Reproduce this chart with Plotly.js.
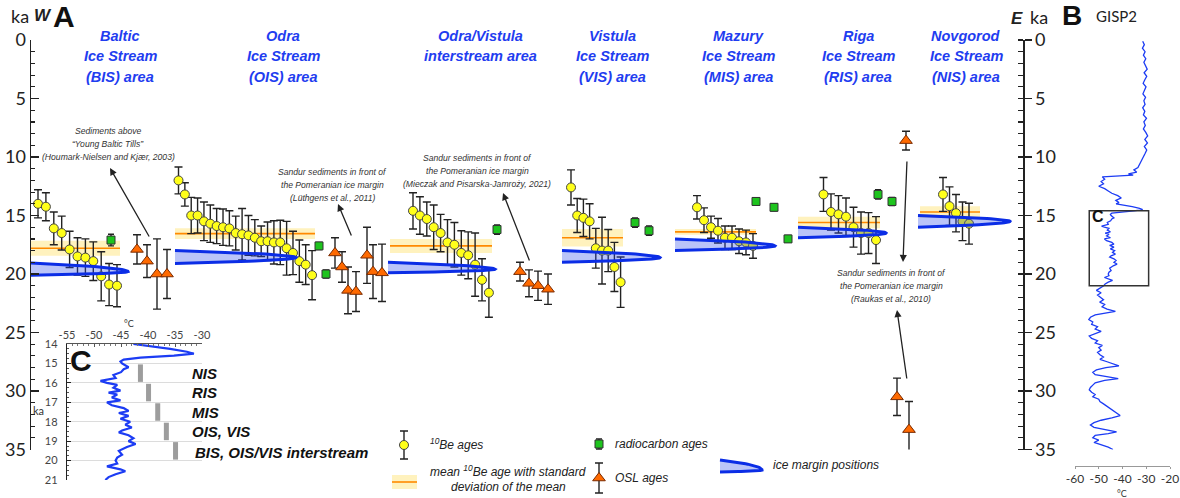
<!DOCTYPE html>
<html><head><meta charset="utf-8">
<script src="https://cdn.plot.ly/plotly-3.0.1.min.js"></script>
<style>html,body{margin:0;padding:0;background:#fff}#chart{width:1180px;height:498px}</style>
</head><body><div id="chart"></div>
<script>
// ================= DATA =================
const groupTitles = [
  ['Baltic','Ice Stream','(BIS) area'],
  ['Odra','Ice Stream','(OIS) area'],
  ['Odra/Vistula','interstream area'],
  ['Vistula','Ice Stream','(VIS) area'],
  ['Mazury','Ice Stream','(MIS) area'],
  ['Riga','Ice Stream','(RIS) area'],
  ['Novgorod','Ice Stream','(NIS) area']
];
// 10Be ages (ka) and 1-sigma errors per group
const be10Age = [
  [14.0,14.25,16.1,16.5,17.9,18.5,18.6,18.9,20.2,20.9,21.0],
  [12.0,13.2,15.0,15.0,15.5,15.7,15.9,16.0,16.1,16.5,16.6,16.7,16.9,17.2,17.2,17.3,17.3,17.8,18.2,18.9,19.2,20.1],
  [14.6,15.0,15.3,16.0,16.5,17.3,17.5,18.2,18.4,19.2,20.5,21.6],
  [12.6,15.0,15.2,15.5,17.8,18.0,18.0,19.4,20.7],
  [14.3,15.4,16.0,16.3,16.9,16.9,17.2,17.3,17.6],
  [13.2,14.7,14.9,15.1,16.0,16.5,16.5,17.1],
  [13.2,14.2,14.8,15.5,15.7]
];
const be10Err = [
  [1.2,1.2,1.4,1.45,1.55,1.6,1.6,1.65,2.1,1.8,1.8],
  [1.15,1.0,1.55,1.5,1.65,1.6,1.5,1.55,1.5,1.45,2.2,1.7,1.55,1.3,1.65,1.85,1.9,2.3,1.85,1.8,1.7,2.1],
  [1.55,1.6,1.45,1.9,1.6,1.95,1.9,1.9,2.0,2.7,1.8,2.1],
  [1.5,1.45,1.6,1.5,1.7,2.85,1.8,2.1,2.15],
  [1.0,1.05,0.95,1.05,1.0,1.0,1.05,1.05,1.05],
  [1.45,1.55,1.6,1.6,1.7,1.8,1.75,2.0],
  [1.45,1.65,1.6,1.65,1.75]
];
const meanAge = [17.8,16.55,17.6,16.9,16.4,15.6,14.7];
const meanSd  = [0.65,0.45,0.6,0.75,0.25,0.5,0.5];
const iceTop = [19.05,18.0,19.0,18.0,17.0,16.0,15.0];
const iceTip = [19.8,18.6,19.6,18.6,17.6,16.5,15.5];
const iceBot = [20.1,19.1,19.9,19.0,18.0,16.9,16.0];
const c14Age = [17.1,17.6,20.0,16.2,15.6,16.3,13.8,14.3,17.0,13.2,13.8];
const c14Err = [0.5,0.3,0.35,0.4,0.4,0.4,0.3,0.3,0.3,0.4,0.35];
const oslAge = [17.9,18.9,20.0,20.0, 18.2,19.4,21.4,21.5,18.4,19.8,19.9, 19.8,20.8,21.0,21.3, 8.6,30.5,33.3];
const oslErr = [1.25,1.4,3.0,2.1, 1.3,1.3,2.0,1.7,2.4,2.3,2.45, 0.8,1.15,1.25,1.3, 0.8,1.6,2.4];

// GISP2 temperature (deg C) vs age (ka)
const gispAgeHolo = [0.1,0.4,0.7,1.0,1.3,1.6,1.9,2.2,2.5,2.8,3.1,3.4,3.7,4.0,4.3,4.6,4.9,5.2,5.5,5.8,6.1,6.4,6.7,7.0,7.3,7.6,7.9,8.2,8.5,8.8,9.1,9.4,9.7,10.0,10.3,10.6,10.9,11.1,11.3,11.45,11.55,11.7,11.9,12.1,12.3,12.5,12.7,12.9,13.1,13.3,13.5,13.7,13.9];
const gispTempHolo = [-31.5,-30.8,-31.6,-30.5,-31.2,-30.2,-31.0,-30.4,-29.6,-30.9,-29.8,-30.6,-31.3,-30.1,-30.8,-31.4,-30.3,-31.0,-30.5,-31.5,-30.6,-31.2,-29.9,-31.0,-30.4,-31.2,-30.2,-29.4,-30.6,-29.5,-30.8,-29.8,-30.5,-31.2,-32.0,-32.8,-33.5,-35.2,-34.0,-37.5,-35.5,-48.5,-47.5,-49.0,-48.0,-50.0,-47.5,-46.0,-44.5,-42.0,-40.5,-42.8,-41.5];
const cAge = [14.0,14.1,14.25,14.4,14.5,14.6,14.7,14.8,14.9,15.0,15.2,15.3,15.45,15.6,15.75,15.9,16.0,16.1,16.25,16.4,16.5,16.6,16.75,16.9,17.0,17.15,17.3,17.45,17.55,17.7,17.85,18.0,18.15,18.3,18.45,18.55,18.7,18.85,19.0,19.15,19.3,19.5,19.7,19.85,20.0,20.15,20.3,20.45,20.55,20.7,20.85,21.0];
const cTemp = [-42.7,-39.6,-35.9,-32.8,-31.5,-35.2,-41.4,-44.5,-45.1,-44.8,-43.6,-44.5,-45.0,-46.4,-46.0,-48.8,-47.6,-45.7,-46.4,-45.1,-47.3,-45.7,-46.7,-45.1,-47.6,-46.7,-44.5,-43.6,-45.4,-43.6,-45.1,-43.3,-44.2,-43.0,-44.8,-45.4,-43.6,-42.7,-43.6,-42.3,-43.9,-45.4,-44.8,-45.7,-46.0,-45.7,-47.6,-45.1,-44.2,-46.0,-47.3,-47.9];
const gispAgeGlac = [21.2,21.4,21.6,21.8,22.0,22.2,22.4,22.6,22.8,23.0,23.2,23.35,23.5,23.7,23.9,24.1,24.3,24.5,24.7,24.9,25.1,25.3,25.5,25.7,25.9,26.1,26.3,26.5,26.7,26.9,27.1,27.3,27.5,27.7,27.85,28.0,28.2,28.4,28.6,28.8,28.95,29.1,29.3,29.5,29.7,29.9,30.1,30.3,30.5,30.7,30.9,31.1,31.3,31.5,31.7,31.9,32.1,32.3,32.5,32.7,32.9,33.1,33.3,33.5,33.65,33.8,34.0,34.2,34.4,34.6,34.8,35.0];
const gispTempGlac = [-49.5,-51.0,-49.0,-50.5,-49.2,-48.0,-49.6,-47.5,-48.6,-46.5,-43.0,-47.0,-51.5,-53.5,-54.2,-52.5,-53.0,-50.5,-51.5,-49.0,-52.0,-54.0,-53.0,-50.5,-51.5,-48.5,-50.0,-49.0,-50.5,-49.5,-48.0,-49.5,-46.5,-43.0,-41.5,-47.0,-51.0,-52.5,-51.5,-46.0,-41.8,-47.5,-51.5,-52.5,-53.5,-54.0,-53.0,-51.5,-52.5,-50.0,-49.5,-48.0,-46.5,-45.5,-44.0,-42.5,-41.0,-44.5,-49.0,-52.0,-53.5,-52.0,-47.5,-42.5,-46.0,-51.5,-52.5,-50.0,-52.0,-48.5,-46.0,-44.0];
// inset C: ice-margin timing bars
const cBarLabels = ['NIS','RIS','MIS','OIS, VIS','BIS, OIS/VIS interstream'];
const cBarTemp = [-41.4,-39.9,-38.2,-36.6,-34.9];
const cBarFrom = [15.05,16.05,17.05,18.05,19.05];
const cBarTo   = [15.95,16.95,17.95,18.95,19.95];
// tick labels
const ageTicks = [0,5,10,15,20,25,30,35];
const gispTickVals = [-60,-50,-40,-30,-20];
const gispTickText = ['-60','-50','-40','-30','-20'];
const cTickVals = [-55,-50,-45,-40,-35,-30];
const cTickText = ['-55','-50','-45','-40','-35','-30'];

// ================= LAYOUT POSITIONS (x slots on nominal axis) =================
const W = 1180, H = 498;
const PX = x => x / W, PY = y => 1 - y / H;
const POS = {
  be10Start: [38,178.5,413,571,697,823.5,943],
  be10Step:  [7.9,6.36,6.9,6.2,7.0,7.5,6.5],
  bandX: [[30,120],[175,315],[390,492],[562,623],[675,756],[798,880],[920,980]],
  iceX:  [[30,128],[175,296],[388,495],[562,660],[675,775],[798,886],[918,1010]],
  c14X: [111,319,326,497,635,649,756,774,788,878,892],
  oslX: [137,147,157,167, 335,342,348,356,367,373,382, 520,529,538,548, 906,897,909],
  titleX: [120,283,480,612,738,858,966]
};
const ageDom = [PY(449.5), PY(40)];

function lobePath(x0,x1,top,tip,bot){
  const xs=[], ys=[], N=24;
  for(let i=0;i<=N;i++){const u=Math.pow(1-i/N,2); xs.push(x1-(x1-x0)*u); ys.push(tip-(tip-top)*Math.sqrt(u));}
  for(let i=1;i<=N;i++){const u=Math.pow(i/N,2); xs.push(x1-(x1-x0)*u); ys.push(tip+(bot-tip)*Math.sqrt(u));}
  return {xs,ys};
}

const traces = [];
const ERR = (arr,w)=>({type:'data',array:arr,visible:true,color:'#222',thickness:1.4,width:w});
const LOBE_FILL='rgba(45,75,235,0.33)', LOBE_LINE='#0b2de6';
const YEL='#ffff1a', ORG='#ff6a00', GRN='#1ec41e';

// mean bands
meanAge.forEach((m,g)=>{
  const [a,b]=POS.bandX[g], s=meanSd[g];
  traces.push({x:[a,b,b,a],y:[m-s,m-s,m+s,m+s],mode:'lines',fill:'toself',fillcolor:'rgba(255,226,110,0.45)',line:{width:0},hoverinfo:'skip',xaxis:'x',yaxis:'y'});
  traces.push({x:[a,b],y:[m,m],mode:'lines',line:{color:'#ff8a00',width:1.6},hoverinfo:'skip',xaxis:'x',yaxis:'y'});
});
// 10Be
be10Age.forEach((ages,g)=>{
  traces.push({x:ages.map((_,i)=>POS.be10Start[g]+i*POS.be10Step[g]),y:ages,mode:'markers',
    marker:{symbol:'circle',size:9,color:YEL,line:{color:'#444',width:1}},error_y:ERR(be10Err[g],4),xaxis:'x',yaxis:'y'});
});
// radiocarbon
traces.push({x:POS.c14X,y:c14Age,mode:'markers',marker:{symbol:'square',size:8,color:GRN,line:{color:'#333',width:1}},error_y:ERR(c14Err,3),xaxis:'x',yaxis:'y'});
// OSL
traces.push({x:POS.oslX,y:oslAge,mode:'markers',marker:{symbol:'triangle-up',size:11,color:ORG,line:{color:'#7a2a00',width:1}},error_y:ERR(oslErr,4),xaxis:'x',yaxis:'y'});
// ice margin lobes
iceTop.forEach((t,g)=>{
  const p=lobePath(POS.iceX[g][0],POS.iceX[g][1],t,iceTip[g],iceBot[g]);
  traces.push({x:p.xs,y:p.ys,mode:'lines',fill:'toself',fillcolor:LOBE_FILL,line:{color:LOBE_LINE,width:3},hoverinfo:'skip',xaxis:'x',yaxis:'y'});
});
// dummy for right axis
traces.push({x:[500],y:[0],mode:'markers',marker:{opacity:0},xaxis:'x',yaxis:'y2',hoverinfo:'skip'});

// GISP2 (panel B)
const gAge = gispAgeHolo.concat(cAge, gispAgeGlac);
const gTemp = gispTempHolo.concat(cTemp, gispTempGlac);
traces.push({x:gTemp,y:gAge,mode:'lines',line:{color:'#1c3cf4',width:1.3},xaxis:'x3',yaxis:'y3'});

// inset C
traces.push({x:cTemp,y:cAge,mode:'lines',line:{color:'#1c3cf4',width:2.2},xaxis:'x4',yaxis:'y4'});
const bx=[],by=[];
cBarTemp.forEach((t,i)=>{bx.push(t,t,null);by.push(cBarFrom[i],cBarTo[i],null);});
traces.push({x:bx,y:by,mode:'lines',line:{color:'#9d9d9d',width:5},xaxis:'x4',yaxis:'y4'});

// legend glyphs (pixel overlay axis)
traces.push({x:[404],y:[445],mode:'markers',marker:{symbol:'circle',size:9,color:YEL,line:{color:'#444',width:1}},error_y:ERR([14],4),xaxis:'x5',yaxis:'y5'});
traces.push({x:[392,417,417,392],y:[475,475,489,489],mode:'lines',fill:'toself',fillcolor:'rgba(255,226,110,0.45)',line:{width:0},xaxis:'x5',yaxis:'y5'});
traces.push({x:[392,417],y:[482,482],mode:'lines',line:{color:'#ff8a00',width:1.6},xaxis:'x5',yaxis:'y5'});
traces.push({x:[599],y:[444],mode:'markers',marker:{symbol:'square',size:8,color:GRN,line:{color:'#333',width:1}},error_y:ERR([5],3),xaxis:'x5',yaxis:'y5'});
traces.push({x:[599],y:[478],mode:'markers',marker:{symbol:'triangle-up',size:11,color:ORG,line:{color:'#7a2a00',width:1}},error_y:ERR([15],4),xaxis:'x5',yaxis:'y5'});
const lp=lobePath(720,762,460,470,472);
traces.push({x:lp.xs,y:lp.ys,mode:'lines',fill:'toself',fillcolor:LOBE_FILL,line:{color:LOBE_LINE,width:3},xaxis:'x5',yaxis:'y5'});

// ================= ANNOTATIONS =================
const anns=[];
const A=(text,x,y,o={})=>anns.push(Object.assign({text,x:PX(x),y:PY(y),xref:'paper',yref:'paper',showarrow:false,xanchor:'center',yanchor:'middle',font:{family:'Liberation Sans, Arial',size:12,color:'#222'}},o));
const F=(size,color,family)=>({family:family||'Liberation Sans, Arial',size,color:color||'#222'});
// top labels
A('ka',20,16,{font:F(18,'#222','Lato')});
A('<b><i>W</i></b>',43,15,{font:F(17)});
A('<b>A</b>',64,17,{font:F(30,'#111')});
A('<b><i>E</i></b>',1017,18,{font:F(17)});
A('ka',1039,17,{font:F(18,'#222','Lato')});
A('<b>B</b>',1072,16,{font:F(28,'#111')});
A('GISP2',1116,16,{font:F(15,'#222','Lato')});
A('°C',1122,493,{font:F(9,'#333','Lato'),yanchor:'middle'});
// group titles
groupTitles.forEach((lines,g)=>lines.forEach((t,i)=>A('<b><i>'+t+'</i></b>',POS.titleX[g],36+i*20.5,{font:F(14.5,'#1f3df0')})));
// callouts
const callouts=[
  [108,131,['Sediments above','“Young Baltic Tills”','(Houmark-Nielsen and Kjær, 2003)']],
  [332,172,['Sandur sediments in front of','the Pomeranian ice margin','(Lüthgens et al., 2011)']],
  [477,158,['Sandur sediments in front of','the Pomeranian ice margin','(Mieczak and Pisarska-Jamroży, 2021)']],
  [891,273,['Sandur sediments in front of','the Pomeranian ice margin','(Raukas et al., 2010)']]
];
callouts.forEach(([x,y,ls])=>ls.forEach((t,i)=>A('<i>'+t+'</i>',x,y+i*12.8,{font:F(8.6,'#333')})));
// arrows
[[110,168,150,238],[338,204,352,237],[503,193,530,262],[903,262,907,160],[897,310,907,380]].forEach(([hx,hy,tx,ty])=>{
  anns.push({x:PX(hx),y:PY(hy),xref:'paper',yref:'paper',text:'',showarrow:true,ax:tx-hx,ay:ty-hy,axref:'pixel',ayref:'pixel',arrowhead:2,arrowsize:1.1,arrowwidth:1.3,arrowcolor:'#222'});
});
// legend texts
A('<i><sup>10</sup>Be ages</i>',428,444,{xanchor:'left'});
A('<i>mean <sup>10</sup>Be age with standard</i>',508,471);
A('<i>deviation of the mean</i>',508,487);
A('<i>radiocarbon ages</i>',613,444,{xanchor:'left'});
A('<i>OSL ages</i>',613,478,{xanchor:'left'});
A('<i>ice margin positions</i>',771,465,{xanchor:'left'});
// inset C
A('°C',129,323,{font:F(9,'#333','Lato')});
A('ka',38,410,{font:F(11,'#333','Lato')});
A('<b>C</b>',81,360,{font:F(30,'#111')});
cBarLabels.forEach((t,i)=>anns.push({text:'<b><i>'+t+'</i></b>',x:i===4?-31.7:-32.2,y:(cBarFrom[i]+cBarTo[i])/2+(i===4?0.1:0),xref:'x4',yref:'y4',showarrow:false,xanchor:'left',yanchor:'middle',font:F(15,'#111')}));
// box label in B
anns.push({text:'<b>C</b>',x:-53.5,y:15.1,xref:'x3',yref:'y3',showarrow:false,xanchor:'left',yanchor:'middle',font:F(16,'#111')});

const axFont={family:'Lato',size:18,color:'#222'};
const layout={
  width:W,height:H,margin:{l:0,r:0,t:0,b:0},paper_bgcolor:'#fff',plot_bgcolor:'rgba(0,0,0,0)',showlegend:false,
  xaxis:{domain:[PX(31),PX(1023)],range:[31,1023],visible:false,anchor:'y',fixedrange:true},
  yaxis:{domain:ageDom,range:[35,0],anchor:'x',showline:true,linecolor:'#222',linewidth:1.5,ticks:'inside',ticklen:8,tickwidth:1.5,tickcolor:'#222',
    tickmode:'array',tickvals:ageTicks,minor:{dtick:1,ticks:'inside',ticklen:4,tickcolor:'#222',tickwidth:1.2,showgrid:false},showgrid:false,zeroline:false,tickfont:axFont},
  yaxis2:{overlaying:'y',side:'right',anchor:'free',position:PX(1023),range:[35,0],showline:true,linecolor:'#222',linewidth:1.5,ticks:'outside',ticklen:7,tickwidth:1.5,tickcolor:'#222',
    tickmode:'array',tickvals:ageTicks,minor:{dtick:1,ticks:'inside',ticklen:5,tickcolor:'#222',tickwidth:1.2,showgrid:false},showgrid:false,zeroline:false,tickfont:axFont},
  xaxis3:{domain:[PX(1075),PX(1170)],range:[-60,-20],anchor:'free',position:PY(466),showline:true,linecolor:'#999',ticks:'outside',ticklen:2,tickcolor:'#999',
    tickmode:'array',tickvals:gispTickVals,ticktext:gispTickText,ticklabeloverflow:'allow',showgrid:false,zeroline:false,tickfont:{family:'Lato',size:12,color:'#333'}},
  yaxis3:{domain:ageDom,range:[35,0],visible:false,anchor:'x3'},
  xaxis4:{domain:[PX(67),PX(202)],range:[-55,-30],side:'top',anchor:'y4',showline:true,linecolor:'#555',ticks:'inside',ticklen:3,tickcolor:'#555',
    tickmode:'array',tickvals:cTickVals,ticktext:cTickText,minor:{dtick:1,ticks:'inside',ticklen:2,tickcolor:'#777'},showgrid:false,zeroline:false,tickfont:{family:'Lato',size:11,color:'#444'}},
  yaxis4:{domain:[PY(480),PY(344)],range:[21,14],anchor:'x4',showline:true,linecolor:'#222',linewidth:1.2,ticks:'inside',ticklen:4,tickcolor:'#222',dtick:1,ticklabelstandoff:6,
    minor:{dtick:0.25,ticks:'inside',ticklen:2,tickcolor:'#555',showgrid:false},showgrid:true,gridcolor:'#dcdcdc',zeroline:false,tickfont:{family:'Lato',size:11,color:'#444'}},
  xaxis5:{domain:[0,1],range:[0,W],visible:false,anchor:'y5',fixedrange:true},
  yaxis5:{domain:[0,1],range:[H,0],visible:false,anchor:'x5',fixedrange:true},
  shapes:[{type:'rect',xref:'x3',yref:'y3',x0:-54,x1:-29,y0:14.6,y1:21.0,line:{color:'#333',width:1.5}}],
  annotations:anns
};
Plotly.newPlot('chart',traces,layout,{staticPlot:true,displayModeBar:false});
</script></body></html>
